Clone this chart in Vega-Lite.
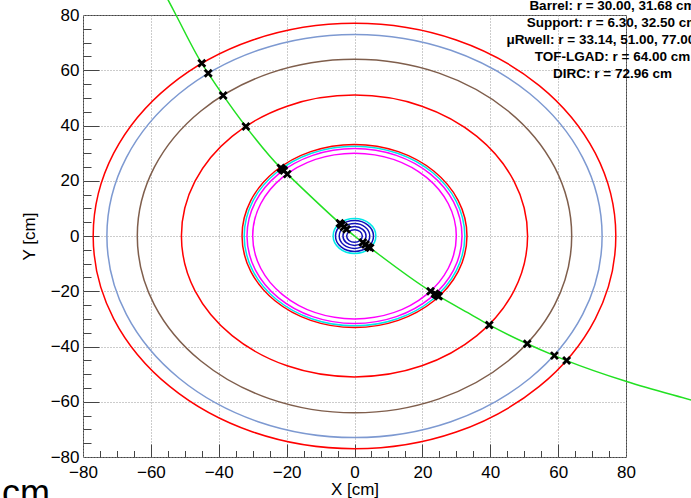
{
  "$schema": "https://vega.github.io/schema/vega-lite/v6.json",
  "width": 543,
  "height": 442,
  "autosize": {"type": "none"},
  "padding": {"left": 83, "top": 15, "right": 65, "bottom": 41},
  "background": "white",
  "config": {"view": {"stroke": "#444", "strokeWidth": 1}, "font": "Liberation Sans"},
  "title": {"text": "cm", "orient": "bottom", "anchor": "start", "frame": "group", "font": "Liberation Sans", "fontSize": 36, "fontWeight": "normal", "color": "#000", "baseline": "alphabetic", "dx": -81, "offset": 8},
  "resolve": {"axis": {"x": "independent", "y": "independent"}},
  "datasets": {
    "layers": [
      {"det": "Vertex", "r": 2.3},
      {"det": "Vertex", "r": 3.4},
      {"det": "Vertex", "r": 4.5},
      {"det": "Vertex", "r": 5.6},
      {"det": "Support: r = 6.30, 32.50 cm", "r": 6.3},
      {"det": "Barrel: r = 30.00, 31.68 cm", "r": 30.0},
      {"det": "Barrel: r = 30.00, 31.68 cm", "r": 31.68},
      {"det": "Support: r = 6.30, 32.50 cm", "r": 32.5},
      {"det": "μRwell: r = 33.14, 51.00, 77.00 cm", "r": 33.14},
      {"det": "μRwell: r = 33.14, 51.00, 77.00 cm", "r": 51.0},
      {"det": "TOF-LGAD: r = 64.00 cm", "r": 64.0},
      {"det": "DIRC: r = 72.96 cm", "r": 72.96},
      {"det": "μRwell: r = 33.14, 51.00, 77.00 cm", "r": 77.0}
    ],
    "track": [
      {"x": -56.1, "y": 88.2},
      {"x": -54.9, "y": 85.4},
      {"x": -52.6, "y": 80.0},
      {"x": -45.0, "y": 62.5},
      {"x": -43.1, "y": 58.9},
      {"x": -38.7, "y": 50.9},
      {"x": -32.0, "y": 39.6},
      {"x": -21.7, "y": 24.6},
      {"x": -19.8, "y": 22.4},
      {"x": -4.3, "y": 4.6},
      {"x": 0.0, "y": 0.0},
      {"x": 4.6, "y": -4.3},
      {"x": 22.4, "y": -20.0},
      {"x": 24.8, "y": -21.8},
      {"x": 34.0, "y": -28.2},
      {"x": 39.7, "y": -32.2},
      {"x": 50.9, "y": -39.0},
      {"x": 58.9, "y": -43.3},
      {"x": 62.5, "y": -45.1},
      {"x": 80.2, "y": -52.7},
      {"x": 99.2, "y": -59.4},
      {"x": 101.5, "y": -60.2}
    ],
    "hits": [
      {"x": -45.0, "y": 62.5},
      {"x": -43.1, "y": 58.9},
      {"x": -38.7, "y": 50.9},
      {"x": -32.0, "y": 39.6},
      {"x": -21.7, "y": 24.6},
      {"x": -21.3, "y": 24.2},
      {"x": -20.8, "y": 23.7},
      {"x": -19.8, "y": 22.4},
      {"x": -4.3, "y": 4.6},
      {"x": -3.85, "y": 4.05},
      {"x": -3.1, "y": 3.25},
      {"x": -2.35, "y": 2.45},
      {"x": 2.45, "y": -2.35},
      {"x": 3.25, "y": -3.1},
      {"x": 4.05, "y": -3.85},
      {"x": 4.6, "y": -4.3},
      {"x": 22.4, "y": -20.0},
      {"x": 23.7, "y": -20.9},
      {"x": 24.3, "y": -21.4},
      {"x": 24.8, "y": -21.8},
      {"x": 39.7, "y": -32.2},
      {"x": 50.9, "y": -39.0},
      {"x": 58.9, "y": -43.3},
      {"x": 62.5, "y": -45.1}
    ]
  },
  "layer": [
    {
      "data": {"name": "layers"},
      "mark": {
        "type": "point",
        "shape": "M 1 0 C 1 0.44956 0.55228 0.814 0 0.814 C -0.55228 0.814 -1 0.44956 -1 0 C -1 -0.44956 -0.55228 -0.814 0 -0.814 C 0.55228 -0.814 1 -0.44956 1 0 Z",
        "filled": false,
        "opacity": 1,
        "strokeWidth": 1.5
      },
      "encoding": {
        "x": {
          "datum": 0, "type": "quantitative",
          "scale": {"domain": [-80, 80], "nice": false, "zero": false},
          "axis": {
            "orient": "bottom",
            "title": "X [cm]",
            "values": [-80, -60, -40, -20, 0, 20, 40, 60, 80],
            "labelFont": "Liberation Sans", "labelFontSize": 17, "labelColor": "#000",
            "labelFlush": false, "labelOverlap": false, "labelBound": false, "labelPadding": 7,
            "domain": false, "ticks": false,
            "grid": true, "gridColor": "#999", "gridDash": [1, 2],
            "titleFont": "Liberation Sans", "titleFontSize": 17, "titleFontWeight": "normal", "titleColor": "#000", "titlePadding": 1
          }
        },
        "y": {
          "datum": 0, "type": "quantitative",
          "scale": {"domain": [-80, 80], "nice": false, "zero": false},
          "axis": {
            "orient": "left",
            "title": "Y [cm]",
            "values": [-80, -60, -40, -20, 0, 20, 40, 60, 80],
            "labelFont": "Liberation Sans", "labelFontSize": 17, "labelColor": "#000",
            "labelFlush": false, "labelOverlap": false, "labelBound": false, "labelPadding": 4,
            "domain": false, "ticks": false,
            "grid": true, "gridColor": "#999", "gridDash": [1, 2],
            "titleFont": "Liberation Sans", "titleFontSize": 17, "titleFontWeight": "normal", "titleColor": "#000", "titlePadding": 12
          }
        },
        "size": {
          "field": "r", "type": "quantitative",
          "scale": {"type": "pow", "exponent": 2, "domain": [0, 80], "range": [0, 294849], "zero": true},
          "legend": null
        },
        "color": {
          "field": "det", "type": "nominal",
          "scale": {
            "domain": ["Barrel: r = 30.00, 31.68 cm", "Support: r = 6.30, 32.50 cm", "μRwell: r = 33.14, 51.00, 77.00 cm", "TOF-LGAD: r = 64.00 cm", "DIRC: r = 72.96 cm", "Vertex"],
            "range": ["#ff00ff", "#00e8e8", "#ff0000", "#7f5e4c", "#7d99d1", "#1010b8"]
          },
          "legend": {
            "orient": "none", "legendX": 516, "legendY": -16,
            "values": ["Barrel: r = 30.00, 31.68 cm", "Support: r = 6.30, 32.50 cm", "μRwell: r = 33.14, 51.00, 77.00 cm", "TOF-LGAD: r = 64.00 cm", "DIRC: r = 72.96 cm"],
            "title": null,
            "symbolSize": 0, "symbolOpacity": 0, "symbolStrokeWidth": 0,
            "labelAlign": "center", "labelFont": "Liberation Sans", "labelFontSize": 13.5, "labelFontWeight": "bold",
            "labelLimit": 0, "rowPadding": 2, "labelOffset": 0,
            "encode": {"labels": {"update": {"fill": {"scale": "color", "field": "value"}}}}
          }
        }
      }
    },
    {
      "data": {"name": "track"},
      "mark": {"type": "line", "color": "#22e022", "strokeWidth": 1.5, "interpolate": "monotone", "clip": false},
      "encoding": {
        "x": {
          "field": "x", "type": "quantitative",
          "scale": {"domain": [-80, 80], "nice": false, "zero": false},
          "axis": {
            "orient": "bottom", "title": null,
            "values": [-75, -70, -65, -55, -50, -45, -35, -30, -25, -15, -10, -5, 5, 10, 15, 25, 30, 35, 45, 50, 55, 65, 70, 75],
            "labels": false, "grid": false, "domain": false,
            "offset": -6.5, "ticks": true, "tickSize": 6.5, "tickColor": "#444", "tickWidth": 1
          }
        },
        "y": {
          "field": "y", "type": "quantitative",
          "scale": {"domain": [-80, 80], "nice": false, "zero": false},
          "axis": {
            "orient": "left", "title": null,
            "values": [-75, -70, -65, -55, -50, -45, -35, -30, -25, -15, -10, -5, 5, 10, 15, 25, 30, 35, 45, 50, 55, 65, 70, 75],
            "labels": false, "grid": false, "domain": false,
            "offset": -8, "ticks": true, "tickSize": 8, "tickColor": "#444", "tickWidth": 1
          }
        }
      }
    },
    {
      "data": {"name": "hits"},
      "mark": {"type": "point", "shape": "M -1 -1 L 1 1 M -1 1 L 1 -1", "filled": false, "opacity": 1, "stroke": "#000", "strokeWidth": 2.8, "size": 49},
      "encoding": {
        "x": {
          "field": "x", "type": "quantitative",
          "scale": {"domain": [-80, 80], "nice": false, "zero": false},
          "axis": {
            "orient": "bottom", "title": null,
            "values": [-60, -40, -20, 0, 20, 40, 60],
            "labels": false, "grid": false, "domain": false,
            "offset": -13, "ticks": true, "tickSize": 13, "tickColor": "#444", "tickWidth": 1
          }
        },
        "y": {
          "field": "y", "type": "quantitative",
          "scale": {"domain": [-80, 80], "nice": false, "zero": false},
          "axis": {
            "orient": "left", "title": null,
            "values": [-60, -40, -20, 0, 20, 40, 60],
            "labels": false, "grid": false, "domain": false,
            "offset": -16, "ticks": true, "tickSize": 16, "tickColor": "#444", "tickWidth": 1
          }
        }
      }
    }
  ]
}
